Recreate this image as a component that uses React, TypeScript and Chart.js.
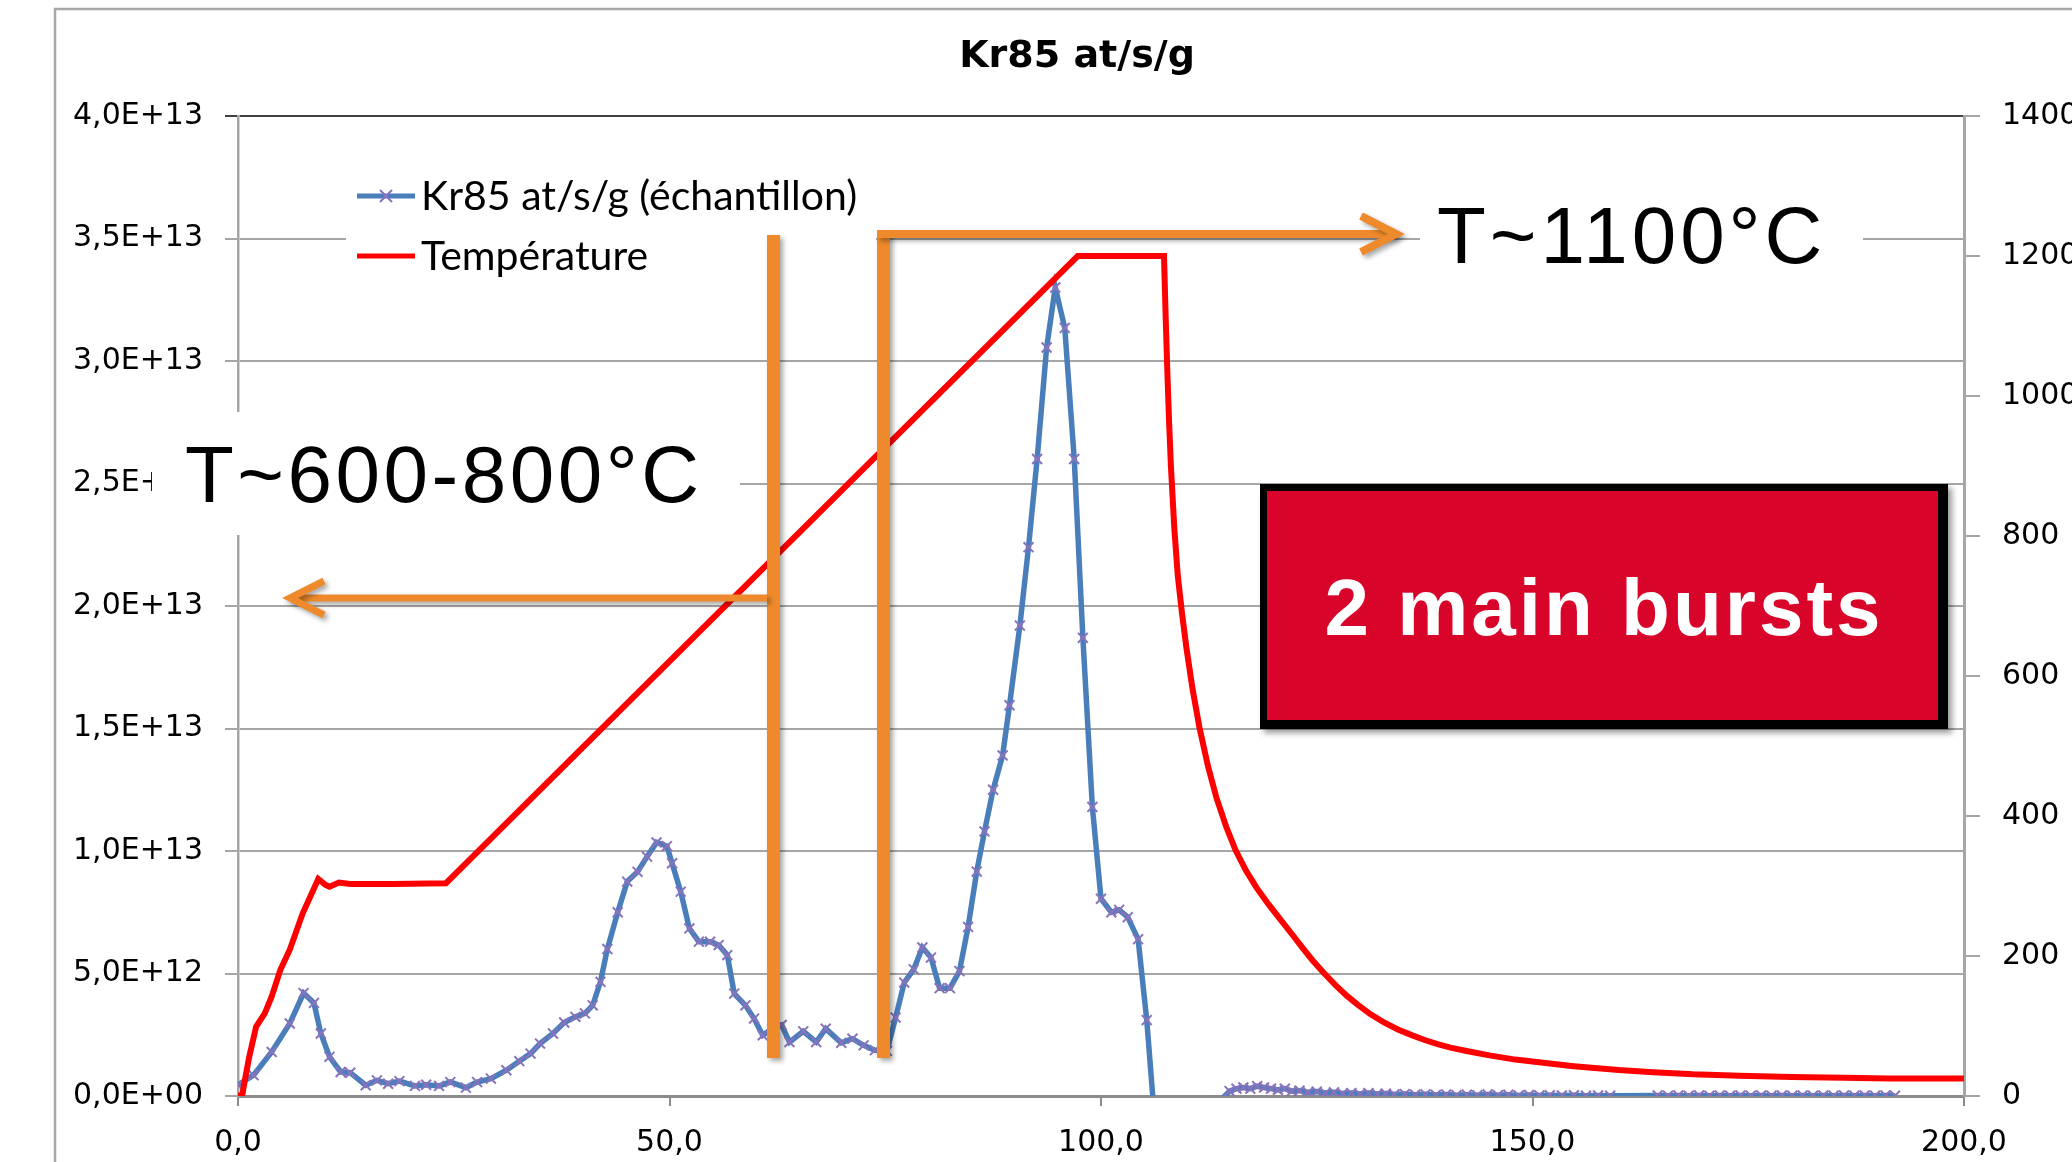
import { useEffect, useRef } from 'react';
import { Chart, registerables } from 'chart.js';

Chart.register(...registerables);

const W = 2072;
const H = 1162;

// ---- data ----
const chartTitle = 'Kr85 at/s/g';
const seriesLabels = ['Kr85 at/s/g (échantillon)', 'Température'];
const noteLow = 'T~600-800°C';
const noteHigh = 'T~1100°C';
const noteBox = '2 main bursts';

const xTicks = [0, 50, 100, 150, 200];
const leftMax = 4e13;
const leftStep = 5e12;
const rightMax = 1400;
const rightStep = 200;

// Kr85 release, values in units of 1e12 at/s/g
const KR_UNIT = 1e12;
const kr85X = [
  0.0, 1.8, 3.9, 6.0, 7.6, 8.8, 9.6, 10.6, 11.9, 13.0, 14.8, 16.1, 17.4, 18.7, 20.5, 21.8, 23.3, 24.6, 26.4, 27.7,
  29.3, 31.1, 32.6, 33.9, 35.0, 36.5, 37.8, 39.1, 40.2, 41.1, 42.0, 42.8, 44.0, 45.1, 46.3, 47.4, 48.5, 49.7, 50.3,
  51.3, 52.3, 53.4, 54.7, 55.7, 56.7, 57.5, 58.8, 59.8, 60.8, 61.9, 63.0, 63.9, 65.5, 67.0, 68.1, 69.9, 71.2, 72.5,
  73.8, 75.2, 76.2, 77.2, 78.3, 79.3, 80.3, 81.3, 82.5, 83.6, 84.6, 85.6, 86.5, 87.5, 88.6, 89.4, 90.6, 91.6, 92.6,
  93.7, 94.7, 95.8, 96.9, 97.9, 99.0, 100.0, 101.2, 102.1, 103.1, 104.3, 105.3, 106.4, 108.0, 110.0, 112.0, 113.8,
  114.9, 115.7, 116.5, 117.3, 118.1, 118.9, 119.7, 120.5, 121.3, 122.1, 123.0, 124.0, 125.0, 126.0, 127.0, 128.0,
  129.0, 130.0, 131.0, 132.0, 133.0, 134.0, 135.2, 136.4, 137.6, 138.8, 140.0, 141.2, 142.4, 143.6, 144.8, 146.0,
  147.2, 148.4, 149.6, 150.8, 152.0, 153.4, 154.8, 156.2, 157.6, 159.0, 164.5, 165.7, 166.9, 168.1, 169.3, 170.5,
  171.7, 172.9, 174.1, 175.3, 176.5, 177.7, 178.9, 180.1, 181.3, 182.5, 183.7, 184.9, 186.1, 187.3, 188.5, 189.7,
  190.9, 192.0,
];
const kr85Y = [
  0.45, 0.85, 1.8, 2.96, 4.2, 3.8, 2.55, 1.6, 0.98, 0.95, 0.44, 0.64, 0.5, 0.61, 0.41, 0.46, 0.41, 0.57, 0.34, 0.57,
  0.71, 1.05, 1.42, 1.73, 2.14, 2.55, 3.0, 3.23, 3.37, 3.7, 4.66, 6.0, 7.5, 8.75, 9.15, 9.77, 10.35, 10.2, 9.5,
  8.34, 6.84, 6.3, 6.3, 6.16, 5.75, 4.18, 3.7, 3.16, 2.48, 2.75, 2.9, 2.2, 2.64, 2.2, 2.75, 2.17, 2.34, 2.07,
  1.87, 1.84, 3.2, 4.63, 5.17, 6.06, 5.65, 4.4, 4.4, 5.1, 6.9, 9.16, 10.8, 12.5, 13.9, 15.95, 19.2, 22.4, 26.0,
  30.55, 33.0, 31.35, 26.0, 18.7, 11.8, 8.05, 7.5, 7.6, 7.3, 6.4, 3.1, -1.8, -5.0, -4.0, -2.0, -0.2,
  0.2, 0.3, 0.35, 0.3, 0.4, 0.35, 0.3, 0.25, 0.3, 0.2, 0.22, 0.15, 0.18, 0.12, 0.15, 0.1,
  0.12, 0.08, 0.12, 0.08, 0.1, 0.06, 0.08, 0.05, 0.07, 0.04, 0.06, 0.03, 0.05, 0.03, 0.06, 0.03,
  0.05, 0.02, 0.04, 0.02, 0.03, 0.02, 0.03, 0.01, 0.02, 0.01, 0.02, 0.01, 0.02, 0.01, 0.02, 0.01,
  0.02, 0.01, 0.02, 0.01, 0.02, 0.01, 0.02, 0.01, 0.02, 0.01, 0.02, 0.01, 0.02, 0.01, 0.02, 0.01,
  0.02, 0.01,
];

// Temperature (°C, right axis)
const tempX = [
  0, 0.5, 0.8, 1.3, 2.1, 3.1, 3.9, 4.9, 6.0, 7.5, 9.3, 10.1, 10.6, 11.7, 13.0, 18.0, 24.1, 97.3, 107.3, 107.5,
  107.7, 107.9, 108.1, 108.5, 108.9, 109.4, 109.9, 110.6, 111.4, 112.4, 113.4, 114.5, 115.6, 116.8, 118.0, 119.4,
  120.8, 122.2, 123.4, 124.5, 125.8, 127.2, 128.5, 129.7, 131.2, 132.8, 134.4, 136.0, 137.5, 139.0, 140.5, 142.5,
  145.0, 148.0, 151.5, 154.5, 157.2, 160.0, 164.0, 168.6, 174.0, 180.0, 186.0, 191.4, 200.0,
];
const tempY = [
  0, 2, 23, 56, 99, 118, 142, 180, 209, 261, 310, 302, 299, 305, 303, 303, 304, 1200, 1200, 1110,
  1030, 960, 900, 810, 743, 688, 640, 582, 527, 471, 425, 385, 351, 322, 298, 274,
  252, 230, 211, 194, 176, 158, 143, 131, 117, 105, 95, 87, 80, 74, 69, 64,
  58, 52, 47, 43, 40, 37, 34, 31, 29, 27, 26, 25, 25,
];

// ---- styles ----
const BLUE = '#4A7EBB';
const MARK = '#8A72BC';
const RED = '#FF0000';
const ORANGE = '#EE8A2B';
const BOX_RED = '#D8042A';
const GRID = '#A6A6A6';
const TICK_FONT = { family: '"DejaVu Sans"', size: 30 };

const fmtExp = (v: number) => {
  const [m, e] = v.toExponential(1).split('e');
  return m.replace('.', ',') + 'E' + e[0] + e.slice(1).padStart(2, '0');
};

const overlay = {
  id: 'overlay',
  beforeDraw(chart: any) {
    const ctx = chart.ctx;
    ctx.save();
    ctx.fillStyle = '#fff';
    ctx.fillRect(0, 0, W, H);
    ctx.restore();
  },
  afterDraw(chart: any) {
    const ctx: CanvasRenderingContext2D = chart.ctx;
    ctx.save();

    // outer frame
    ctx.strokeStyle = GRID;
    ctx.lineWidth = 2.5;
    ctx.beginPath();
    ctx.moveTo(55, H);
    ctx.lineTo(55, 9);
    ctx.lineTo(W, 9);
    ctx.stroke();

    // title
    ctx.fillStyle = '#000';
    ctx.font = 'bold 38px "DejaVu Sans"';
    ctx.textAlign = 'center';
    ctx.textBaseline = 'alphabetic';
    ctx.fillText(chartTitle, 1077, 67);

    // legend (inside plot area)
    ctx.fillStyle = '#fff';
    ctx.fillRect(346, 163, 530, 128);
    ctx.lineCap = 'butt';
    ctx.strokeStyle = BLUE;
    ctx.lineWidth = 5;
    ctx.beginPath();
    ctx.moveTo(357, 196);
    ctx.lineTo(415, 196);
    ctx.stroke();
    ctx.strokeStyle = MARK;
    ctx.lineWidth = 2;
    ctx.beginPath();
    ctx.moveTo(380, 190);
    ctx.lineTo(392, 202);
    ctx.moveTo(392, 190);
    ctx.lineTo(380, 202);
    ctx.stroke();
    ctx.strokeStyle = RED;
    ctx.lineWidth = 5;
    ctx.beginPath();
    ctx.moveTo(357, 256);
    ctx.lineTo(415, 256);
    ctx.stroke();
    ctx.fillStyle = '#000';
    ctx.font = '41px Lato';
    ctx.textAlign = 'left';
    ctx.fillText(seriesLabels[0], 421, 210);
    ctx.fillText(seriesLabels[1], 421, 270);

    // white text boxes
    ctx.fillStyle = '#fff';
    ctx.fillRect(152, 412, 588, 123);
    ctx.fillRect(1420, 190, 443, 95);
    ctx.fillStyle = '#000';
    ctx.font = '80px "Liberation Sans"';
    (ctx as any).letterSpacing = '3.5px';
    ctx.fillText(noteLow, 185, 502);
    (ctx as any).letterSpacing = '4px';
    ctx.fillText(noteHigh, 1437, 263);

    // orange markers with soft shadow
    ctx.shadowColor = 'rgba(0,0,0,0.35)';
    ctx.shadowBlur = 5;
    ctx.shadowOffsetX = 3;
    ctx.shadowOffsetY = 3;
    ctx.fillStyle = ORANGE;
    ctx.strokeStyle = ORANGE;
    ctx.lineJoin = 'miter';
    // left: vertical bar + arrow to the left
    ctx.fillRect(767, 235, 13, 823);
    ctx.lineWidth = 7;
    ctx.beginPath();
    ctx.moveTo(767, 598);
    ctx.lineTo(290, 598);
    ctx.stroke();
    ctx.beginPath();
    ctx.moveTo(324, 581);
    ctx.lineTo(290, 598);
    ctx.lineTo(324, 615);
    ctx.stroke();
    // right: vertical bar + arrow to the right
    ctx.fillRect(877, 232, 13, 826);
    ctx.lineWidth = 8;
    ctx.beginPath();
    ctx.moveTo(877, 234);
    ctx.lineTo(1396, 234);
    ctx.stroke();
    ctx.beginPath();
    ctx.moveTo(1361, 216);
    ctx.lineTo(1396, 234);
    ctx.lineTo(1361, 252);
    ctx.stroke();

    // red box
    ctx.shadowColor = 'rgba(0,0,0,0.4)';
    ctx.shadowBlur = 6;
    ctx.shadowOffsetX = 4;
    ctx.shadowOffsetY = 4;
    ctx.fillStyle = '#000';
    ctx.fillRect(1260, 484, 688, 245);
    ctx.shadowColor = 'transparent';
    ctx.fillStyle = BOX_RED;
    ctx.fillRect(1267, 491, 671, 229);
    ctx.fillStyle = '#fff';
    ctx.font = 'bold 80px "Liberation Sans"';
    (ctx as any).letterSpacing = '3px';
    const w = ctx.measureText(noteBox).width;
    ctx.fillText(noteBox, 1604 - w / 2, 635);
    (ctx as any).letterSpacing = '0px';

    ctx.restore();
  },
};

export default function App() {
  const ref = useRef<HTMLCanvasElement>(null);

  useEffect(() => {
    if (!ref.current) return;
    const chart = new Chart(ref.current, {
      type: 'line',
      data: {
        datasets: [
          {
            label: seriesLabels[0],
            data: kr85X.map((x, i) => ({ x, y: kr85Y[i] * KR_UNIT })),
            yAxisID: 'y',
            borderColor: BLUE,
            backgroundColor: BLUE,
            borderWidth: 5.5,
            pointStyle: 'crossRot',
            pointRadius: 7,
            pointBorderColor: MARK,
            pointBackgroundColor: MARK,
            pointBorderWidth: 2,
            tension: 0,
            fill: false,
            order: 1,
          },
          {
            label: seriesLabels[1],
            data: tempX.map((x, i) => ({ x, y: tempY[i] })),
            yAxisID: 'y1',
            borderColor: RED,
            backgroundColor: RED,
            borderWidth: 6,
            pointRadius: 0,
            tension: 0,
            fill: false,
            order: 0,
          },
        ],
      },
      options: {
        responsive: false,
        devicePixelRatio: 1,
        animation: false,
        layout: { padding: { top: 116, left: 0, right: 0, bottom: 0 } },
        plugins: {
          legend: { display: false },
          title: { display: false },
          tooltip: { enabled: false },
        },
        scales: {
          x: {
            type: 'linear',
            position: 'bottom',
            min: xTicks[0],
            max: xTicks[xTicks.length - 1],
            afterBuildTicks: (s: any) => {
              s.ticks = xTicks.map((v) => ({ value: v }));
            },
            ticks: {
              callback: (v: any) => Number(v).toFixed(1).replace('.', ','),
              font: TICK_FONT,
              color: '#000',
              padding: 19,
              maxRotation: 0,
              autoSkip: false,
            },
            grid: { drawOnChartArea: false, tickLength: 10, color: '#8C8C8C', lineWidth: 2 },
            border: { color: '#8C8C8C', width: 3 },
            afterFit: (s: any) => {
              s.height = H - 1096;
            },
          },
          y: {
            type: 'linear',
            position: 'left',
            min: 0,
            max: leftMax,
            ticks: {
              stepSize: leftStep,
              callback: (v: any) => fmtExp(Number(v)),
              font: TICK_FONT,
              color: '#000',
              padding: 22,
            },
            grid: {
              color: (c: any) => (c.tick && c.tick.value === leftMax ? '#404040' : GRID),
              lineWidth: 2,
              tickLength: 13,
            },
            border: { color: GRID, width: 2.5 },
            afterFit: (s: any) => {
              s.width = 238;
            },
          },
          y1: {
            type: 'linear',
            position: 'right',
            min: 0,
            max: rightMax,
            ticks: {
              stepSize: rightStep,
              callback: (v: any) => String(v),
              font: TICK_FONT,
              color: '#000',
              padding: 22,
            },
            grid: { drawOnChartArea: false, tickLength: 16, color: GRID, lineWidth: 2 },
            border: { color: GRID, width: 3 },
            afterFit: (s: any) => {
              s.width = W - 1964;
            },
          },
        },
      },
      plugins: [overlay],
    } as any);
    return () => chart.destroy();
  }, []);

  return (
    <div
      style={{
        position: 'fixed',
        left: 0,
        top: 0,
        width: W,
        height: H,
        overflow: 'hidden',
        background: '#fff',
      }}
    >
      <canvas ref={ref} width={W} height={H} style={{ display: 'block', width: W, height: H }} />
    </div>
  );
}
